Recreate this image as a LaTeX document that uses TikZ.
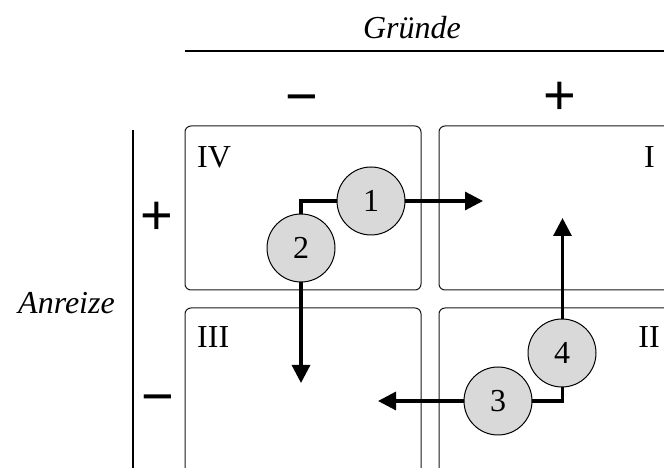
\documentclass[tikz,border=0pt]{standalone}
\usepackage{fontspec}
\setmainfont{Liberation Serif}
\newfontfamily\signfont{Liberation Sans}
\usetikzlibrary{arrows.meta}
\definecolor{circfill}{HTML}{D9D9D9}
\begin{document}
\begin{tikzpicture}[x=1pt,y=1pt,
  quad/.style={draw=black!90, line width=1pt, rounded corners=6pt},
  qlabel/.style={font=\fontsize{32}{36}\selectfont, inner sep=0pt},
  sign/.style={font=\signfont\fontsize{56}{60}\selectfont, inner sep=0pt, anchor=base},
  axislabel/.style={font=\itshape\fontsize{32}{36}\selectfont, inner sep=0pt, anchor=base},
  numcirc/.style={circle, draw=black, line width=1pt, fill=circfill, minimum size=68pt, inner sep=0pt, font=\fontsize{32}{36}\selectfont},
  arr/.style={line width=3.2pt, -{Triangle[length=18pt,width=18pt]}}
]
\useasboundingbox (0,0) rectangle (664,468);
\clip (0,0) rectangle (664,468);
% axes
\coordinate (topL) at (185,416.5);
\coordinate (topR) at (680,416.5);
\draw[line width=2pt] (topL) -- (topR);
\coordinate (leftT) at (133,338);
\coordinate (leftB) at (133,-10);
\draw[line width=2pt] (leftT) -- (leftB);
\node[axislabel] (gruende) at (412,429) {Gründe};
\node[axislabel] (anreize) at (66.5,154) {Anreize};
\node[sign] (sminus) at (301.5,352) {−};
\node[sign] (splus) at (560,353.5) {+};
\node[sign] (lplus) at (157,233) {+};
\node[sign] (lminus) at (158,52) {−};
% quadrants
\draw[quad] (185,178) rectangle (421,342);
\draw[quad] (439,178) rectangle (700,342);
\draw[quad] (185,-20) rectangle (421,160);
\draw[quad] (439,-20) rectangle (700,160);
\node[qlabel, anchor=base west] (qIV) at (197,300) {IV};
\node[qlabel, anchor=base] (qI) at (649.5,300) {I};
\node[qlabel, anchor=base west] (qIII) at (197,120) {III};
\node[qlabel, anchor=base] (qII) at (649,120) {II};
% arrows
\coordinate (b1) at (301,267);
\coordinate (t1) at (483,267);
\coordinate (t2) at (301,85);
\coordinate (b2) at (562.5,67);
\coordinate (t3) at (378,67);
\coordinate (t4) at (562.5,250);
\draw[arr] (b1) -- (t1);
\draw[arr] (b1) -- (t2);
\draw[arr] (b2) -- (t3);
\draw[arr] (b2) -- (t4);
\fill (b1) ++(-1.6,-1.6) rectangle ++(3.2,3.2);
\fill (b2) ++(-1.6,-1.6) rectangle ++(3.2,3.2);
% circles
\node[numcirc] (c1) at (371,267) {1};
\node[numcirc] (c2) at (301,220) {2};
\node[numcirc] (c3) at (498,67) {3};
\node[numcirc] (c4) at (562,115) {4};
\end{tikzpicture}
\end{document}
